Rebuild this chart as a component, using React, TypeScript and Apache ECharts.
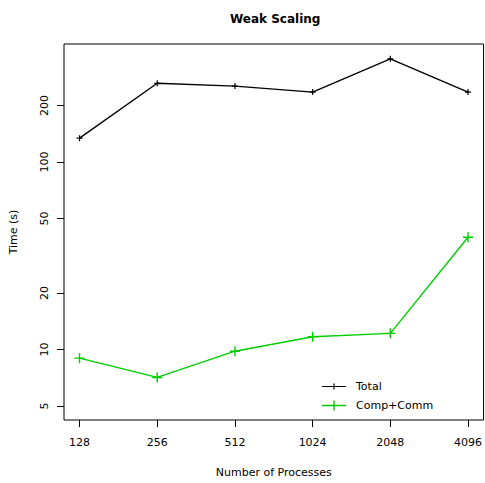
import React, { useEffect, useRef } from "react";
import * as echarts from "echarts";

// Process counts (x) and timings in seconds (y)
const processes = [128, 256, 512, 1024, 2048, 4096];
const totalTime = [134, 263, 254, 236, 355, 236];
const compCommTime = [9.0, 7.1, 9.8, 11.7, 12.2, 39.7];

const yTicks = [5, 10, 20, 50, 100, 200];
const xTicks = [128, 256, 512, 1024, 2048, 4096];

const FONT = "DejaVu Sans";
const GREEN = "#00cd00";

// tiny corner squares fix the icon's bounding box to 24 x 10
const BOX = "M0,0h0.01v0.01h-0.01z M23.99,9.99h0.01v0.01h-0.01z ";
const totalIcon = "path://" + BOX + "M0,4.4h24v1.2h-24z M11.4,2h1.2v6h-1.2z";
const commIcon = "path://" + BOX + "M0,4.3h24v1.4h-24z M11.3,0h1.4v10h-1.4z";

const smallPlus = "path://M2.4,0h1.2v6h-1.2z M0,2.4h6v1.2h-6z";
const bigPlus = "path://M4.3,0h1.4v10h-1.4z M0,4.3h10v1.4h-10z";

export default function App() {
  const ref = useRef<HTMLDivElement>(null);

  useEffect(() => {
    if (!ref.current) return;
    const chart = echarts.init(ref.current, null, { renderer: "svg" });

    const toPairs = (ys: number[]) => processes.map((p, i) => [p, ys[i]]);

    chart.setOption({
      animation: false,
      backgroundColor: "#ffffff",
      title: {
        text: "Weak Scaling",
        left: 225,
        top: 8,
        textStyle: { fontFamily: FONT, fontSize: 12, fontWeight: "bold", color: "#000" },
      },
      legend: {
        left: 317,
        top: 376,
        orient: "vertical",
        itemWidth: 24,
        itemHeight: 10,
        itemGap: 8,
        textStyle: { fontFamily: FONT, fontSize: 11, color: "#000", padding: [0, 0, 0, 5] },
        data: [
          { name: "Total", icon: totalIcon, itemStyle: { color: "#000" } },
          { name: "Comp+Comm", icon: commIcon, itemStyle: { color: GREEN } },
        ],
      },
      grid: {
        left: 63.6,
        top: 44,
        right: -1.7,
        bottom: 59.7,
        show: true,
        borderColor: "#000",
        borderWidth: 1,
        backgroundColor: "transparent",
      },
      xAxis: {
        type: "log",
        logBase: 2,
        min: Math.pow(2, 6.8),
        max: Math.pow(2, 12.2),
        name: "Number of Processes",
        nameLocation: "middle",
        nameGap: 47,
        nameTextStyle: { fontFamily: FONT, fontSize: 11, color: "#000" },
        axisLine: { show: false },
        splitLine: { show: false },
        minorTick: { show: false },
        axisTick: {
          show: true,
          inside: false,
          length: 7,
          customValues: xTicks,
          lineStyle: { color: "#000", width: 1 },
        },
        axisLabel: {
          customValues: xTicks,
          margin: 17,
          fontFamily: FONT,
          fontSize: 11,
          color: "#000",
          formatter: (v: number) => String(Math.round(v)),
        },
      },
      yAxis: {
        type: "log",
        logBase: 10,
        min: 4.21,
        max: 426,
        name: "Time (s)",
        nameLocation: "middle",
        nameRotate: 90,
        nameGap: 45,
        nameTextStyle: { fontFamily: FONT, fontSize: 11, color: "#000" },
        axisLine: { show: false },
        splitLine: { show: false },
        minorTick: { show: false },
        axisTick: {
          show: true,
          inside: false,
          length: 7,
          customValues: yTicks,
          lineStyle: { color: "#000", width: 1 },
        },
        axisLabel: {
          customValues: yTicks,
          rotate: 90,
          margin: 14,
          fontFamily: FONT,
          fontSize: 11,
          color: "#000",
          formatter: (v: number) => String(Math.round(v)),
        },
      },
      series: [
        {
          name: "Total",
          type: "line",
          data: toPairs(totalTime),
          symbol: smallPlus,
          symbolSize: 6,
          showAllSymbol: true,
          lineStyle: { color: "#000", width: 1.4 },
          itemStyle: { color: "#000" },
          z: 3,
        },
        {
          name: "Comp+Comm",
          type: "line",
          data: toPairs(compCommTime),
          symbol: bigPlus,
          symbolSize: 10,
          showAllSymbol: true,
          lineStyle: { color: GREEN, width: 1.4 },
          itemStyle: { color: GREEN },
          z: 3,
        },
      ],
    });

    return () => chart.dispose();
  }, []);

  return (
    <div
      ref={ref}
      style={{ position: "fixed", left: 0, top: 0, width: 485, height: 483, background: "#fff" }}
    />
  );
}
